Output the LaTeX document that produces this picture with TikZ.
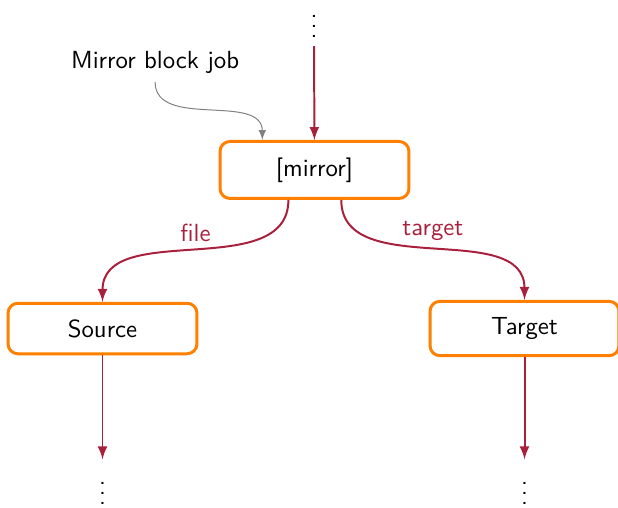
\documentclass[tikz,border=0pt]{standalone}
\definecolor{linkred}{RGB}{168,32,60}
\definecolor{boxorange}{RGB}{255,128,0}
\begin{document}
\begin{tikzpicture}[font=\sffamily]
		\tikzstyle{block}=[rectangle,rounded corners=4pt,draw=boxorange,line width=1.2pt,minimum width=2.68cm,inner ysep=6.5pt]
		\tikzstyle{edge}=[draw=linkred,line width=0.8pt,-latex]
		\tikzstyle{note}=[draw=gray,line width=0.4pt,-latex]

		\useasboundingbox (0,0) rectangle (8.766,-7.206);

		 \node (topdots) at (4.454,-0.27) {$\vdots$};
		 \node (jobnote) at (2.2,-0.88) {Mirror block job};
		 \node [block] (mirror) at (4.461,-2.411) {[mirror]};
		 \node [block] (source) at (1.454,-4.66) {Source};
		 \node [block] (target) at (7.44,-4.66) {Target};
		 \node (sdots) at (1.454,-6.9) {$\vdots$};
		 \node (tdots) at (7.44,-6.9) {$\vdots$};

		 \path[edge] (topdots) -- (mirror);
		 \path[note] (jobnote.south) to[out=-90,in=90] ([xshift=-0.74cm]mirror.north);
		 \path[edge] ([xshift=-0.37cm]mirror.south) to[out=-90,in=90] node[above,text=linkred] {file} (source.north);
		 \path[edge] ([xshift=0.38cm]mirror.south) to[out=-90,in=90] node[above,text=linkred] {target} (target.north);
		 \path[edge] (source) -- (sdots);
		 \path[edge] (target) -- (tdots);

	\end{tikzpicture}
\end{document}
